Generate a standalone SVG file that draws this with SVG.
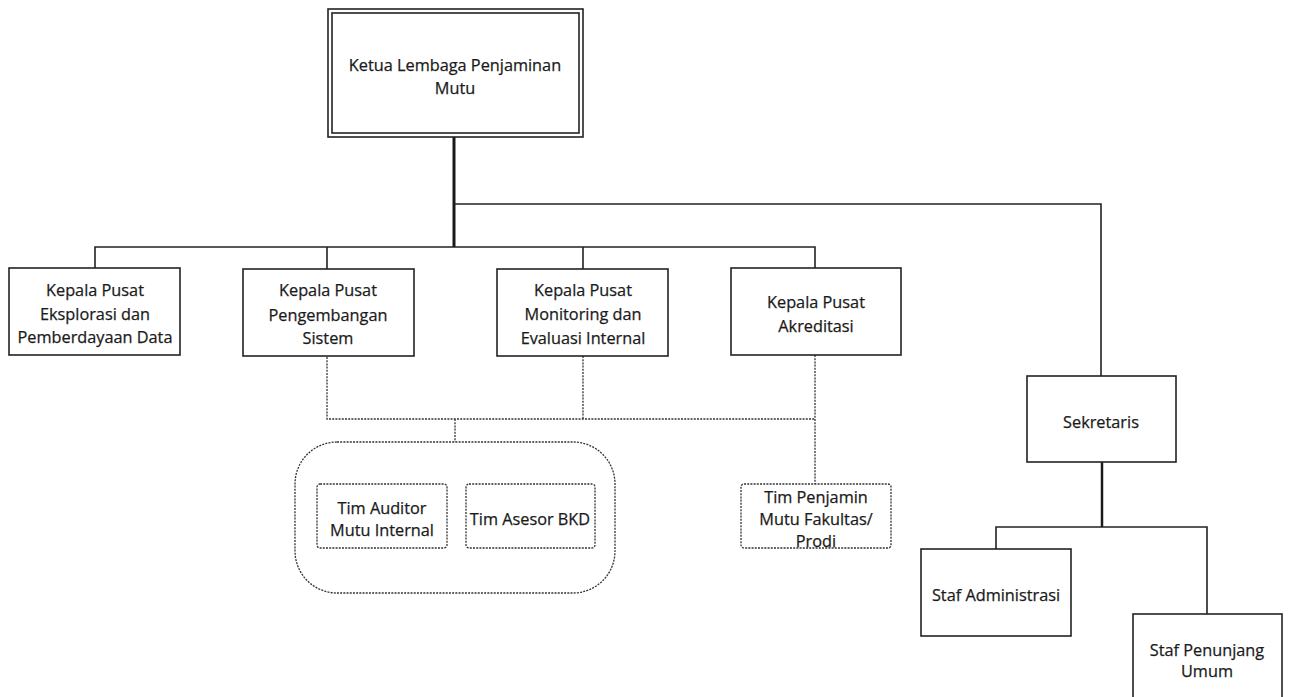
<svg xmlns="http://www.w3.org/2000/svg" width="1289" height="697" viewBox="0 0 1289 697">
<style>
.box{fill:#fff;stroke:#222;stroke-width:1.6}
.dbox{fill:#fff;stroke:#333;stroke-width:1.3;stroke-dasharray:2 1.2}
.ln{fill:none;stroke:#222;stroke-width:1.6}
.thick{fill:none;stroke:#1a1a1a;stroke-width:3}
.dot{fill:none;stroke:#333;stroke-width:1.3;stroke-dasharray:2 1.2}
text{font-family:"Open Sans","Noto Sans","Liberation Sans",sans-serif;font-size:16.3px;fill:#1a1a1a;text-anchor:middle;stroke:#1a1a1a;stroke-width:0.25}
</style>
<rect width="1289" height="697" fill="#fff"/>
<g id="connectors">
<path class="thick" d="M454 137V247"/>
<path class="ln" d="M95 268V247H815V268M327 247V269M583 247V269"/>
<path class="ln" d="M454 204H1101V376"/>
<path class="thick" d="M1102 462V527" style="stroke-width:2.5"/>
<path class="ln" d="M996 549V527H1207V614"/>
<path class="dot" d="M327 357V419H815M583 356V419M815 355V484M455 419V442"/>
</g>
<g id="ketua">
<rect x="328" y="9" width="255" height="128" fill="#fff" stroke="#222" stroke-width="1.6"/>
<rect x="332" y="13" width="247" height="120" fill="none" stroke="#222" stroke-width="1.6"/>
<text x="455" y="71">Ketua Lembaga Penjaminan</text>
<text x="455" y="94">Mutu</text>
</g>
<g id="pusat-data">
<rect class="box" x="9" y="268" width="171" height="87"/>
<text x="95" y="296">Kepala Pusat</text>
<text x="95" y="320">Eksplorasi dan</text>
<text x="95" y="343">Pemberdayaan Data</text>
</g>
<g id="pusat-sistem">
<rect class="box" x="243" y="269" width="171" height="87"/>
<text x="328" y="296">Kepala Pusat</text>
<text x="328" y="321">Pengembangan</text>
<text x="328" y="344">Sistem</text>
</g>
<g id="pusat-monev">
<rect class="box" x="497" y="269" width="171" height="87"/>
<text x="583" y="296">Kepala Pusat</text>
<text x="583" y="320">Monitoring dan</text>
<text x="583" y="344">Evaluasi Internal</text>
</g>
<g id="pusat-akreditasi">
<rect class="box" x="731" y="268" width="170" height="87"/>
<text x="816" y="308">Kepala Pusat</text>
<text x="816" y="332">Akreditasi</text>
</g>
<g id="tim-group">
<rect class="dbox" x="295" y="442" width="320" height="151" rx="42" ry="42"/>
</g>
<g id="tim-auditor">
<rect class="dbox" x="317" y="484" width="130" height="64" rx="3"/>
<text x="382" y="514">Tim Auditor</text>
<text x="382" y="536">Mutu Internal</text>
</g>
<g id="tim-asesor">
<rect class="dbox" x="466" y="484" width="129" height="64" rx="3"/>
<text x="530" y="525">Tim Asesor BKD</text>
</g>
<g id="tim-penjamin">
<rect class="dbox" x="741" y="484" width="150" height="64" rx="3"/>
<text x="816" y="503">Tim Penjamin</text>
<text x="816" y="525">Mutu Fakultas/</text>
<text x="816" y="547">Prodi</text>
</g>
<g id="sekretaris">
<rect class="box" x="1027" y="376" width="149" height="86"/>
<text x="1101" y="428">Sekretaris</text>
</g>
<g id="staf-admin">
<rect class="box" x="921" y="549" width="150" height="87"/>
<text x="996" y="601">Staf Administrasi</text>
</g>
<g id="staf-penunjang">
<rect class="box" x="1133" y="614" width="149" height="100"/>
<text x="1207" y="656">Staf Penunjang</text>
<text x="1207" y="677">Umum</text>
</g>
</svg>
